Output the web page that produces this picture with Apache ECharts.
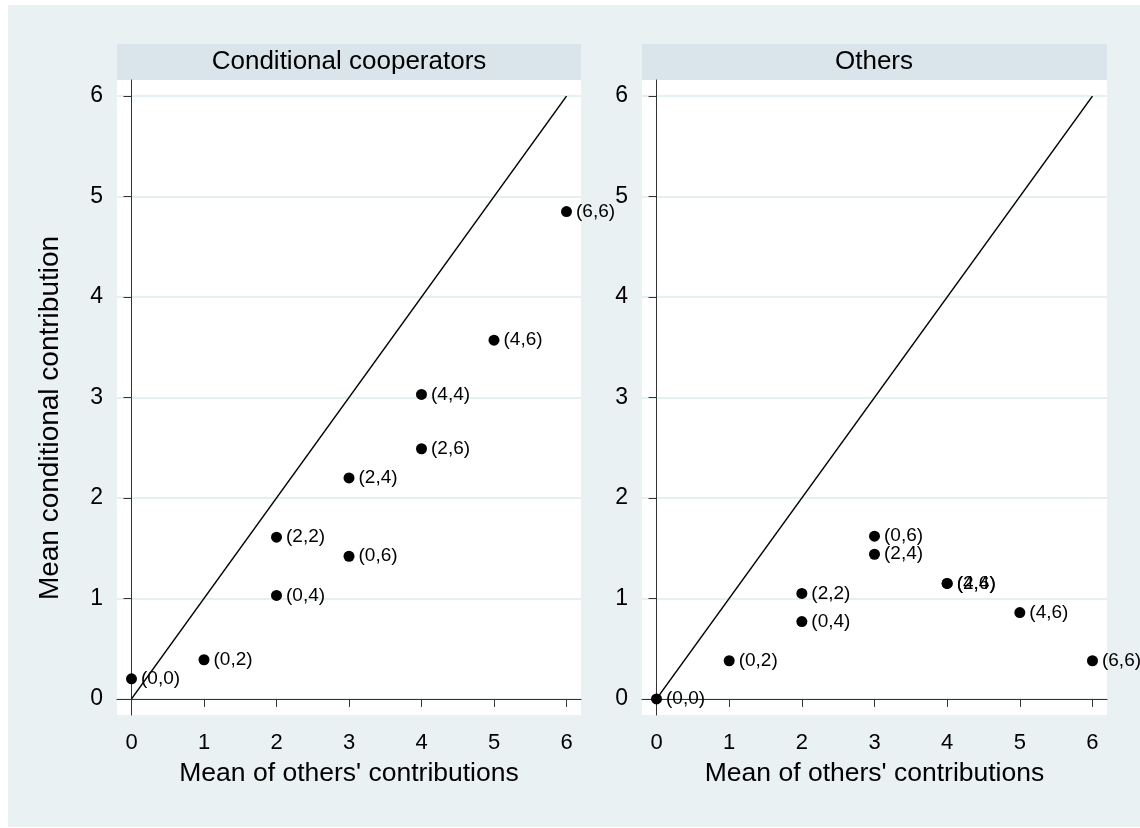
<!DOCTYPE html>
<html>
<head>
<meta charset="utf-8">
<script src="https://cdn.jsdelivr.net/npm/echarts@6/dist/echarts.min.js"></script>
<style>html,body{margin:0;padding:0;background:#fff}#c{width:1140px;height:828px}</style>
</head>
<body>
<div id="c"></div>
<script>
var panelTitles = ['Conditional cooperators', 'Others'];
var xTitle = "Mean of others' contributions";
var yTitle = 'Mean conditional contribution';
var tickValues = [0, 1, 2, 3, 4, 5, 6];
var diagonal = [[0, 0], [6, 6]];

var ccLabels = ['(0,0)', '(0,2)', '(2,2)', '(0,4)', '(2,4)', '(0,6)', '(4,4)', '(2,6)', '(4,6)', '(6,6)'];
var ccX = [0, 1, 2, 2, 3, 3, 4, 4, 5, 6];
var ccY = [0.20, 0.39, 1.61, 1.03, 2.20, 1.42, 3.03, 2.49, 3.57, 4.85];

var otLabels = ['(0,0)', '(0,2)', '(2,2)', '(0,4)', '(0,6)', '(2,4)', '(4,4)', '(2,6)', '(4,6)', '(6,6)'];
var otX = [0, 1, 2, 2, 3, 3, 4, 4, 5, 6];
var otY = [0.00, 0.38, 1.05, 0.77, 1.62, 1.44, 1.15, 1.15, 0.86, 0.38];

var FONT = 'Liberation Sans, Arial, sans-serif';

function pts(xs, ys, labs) {
  return xs.map(function (x, i) { return { value: [x, ys[i]], name: labs[i] }; });
}

var grids = [
  { left: 117, top: 80, width: 464, height: 635 },
  { left: 642, top: 80, width: 465, height: 635 }
];

function xAxisDef(i) {
  return {
    type: 'value', gridIndex: i, min: -0.2, max: 6.2,
    name: xTitle, nameLocation: 'middle', nameGap: 45,
    nameTextStyle: { fontFamily: FONT, fontSize: 26.5, color: '#000' },
    axisLine: { show: true, lineStyle: { color: '#333', width: 1 } },
    axisTick: { show: true, length: 8, customValues: tickValues, lineStyle: { color: '#333' } },
    axisLabel: { customValues: tickValues, fontFamily: FONT, fontSize: 22, color: '#000', margin: 17 },
    splitLine: { show: false }
  };
}
function yAxisDef(i) {
  return {
    type: 'value', gridIndex: i, min: -0.16, max: 6.16,
    axisLine: { show: true, lineStyle: { color: '#333', width: 1 } },
    axisTick: { show: true, length: 8, customValues: tickValues, lineStyle: { color: '#333' } },
    axisLabel: { customValues: tickValues, fontFamily: FONT, fontSize: 23, color: '#000', margin: 14 },
    splitLine: { show: true, lineStyle: { color: '#e6eff2', width: 2 } }
  };
}

function scatter(i, data) {
  return {
    type: 'scatter', xAxisIndex: i, yAxisIndex: i, data: data,
    symbol: 'circle', symbolSize: 11, itemStyle: { color: '#000', opacity: 1 },
    label: { show: true, position: 'right', distance: 4, formatter: '{b}',
      fontFamily: FONT, fontSize: 19, color: '#000' },
    z: 3
  };
}
function diag(i) {
  return {
    type: 'line', xAxisIndex: i, yAxisIndex: i, data: diagonal,
    symbol: 'none', lineStyle: { color: '#000', width: 1.5 }, z: 2, silent: true
  };
}

var chart = echarts.init(document.getElementById('c'), null, { renderer: 'canvas' });
chart.setOption({
  backgroundColor: '#ffffff',
  animation: false,
  graphic: [
    { type: 'rect', shape: { x: 8, y: 5, width: 1132, height: 822 }, style: { fill: '#eaf1f3' }, z: -10 },
    { type: 'rect', shape: { x: 117, y: 80, width: 464, height: 635 }, style: { fill: '#ffffff' }, z: -9 },
    { type: 'rect', shape: { x: 642, y: 80, width: 465, height: 635 }, style: { fill: '#ffffff' }, z: -9 },
    { type: 'rect', shape: { x: 117, y: 44, width: 464, height: 36 }, style: { fill: '#d9e5ea' }, z: -8 },
    { type: 'rect', shape: { x: 642, y: 44, width: 465, height: 36 }, style: { fill: '#d9e5ea' }, z: -8 },
    { type: 'text', x: 349, y: 62, style: { text: panelTitles[0], font: '26px ' + FONT, fill: '#000', textAlign: 'center', textVerticalAlign: 'middle' }, z: 5 },
    { type: 'text', x: 874, y: 62, style: { text: panelTitles[1], font: '26px ' + FONT, fill: '#000', textAlign: 'center', textVerticalAlign: 'middle' }, z: 5 },
    { type: 'text', x: 50, y: 418, rotation: Math.PI / 2, style: { text: yTitle, font: '28px ' + FONT, fill: '#000', textAlign: 'center', textVerticalAlign: 'middle' }, z: 5 }
  ],
  grid: grids,
  xAxis: [xAxisDef(0), xAxisDef(1)],
  yAxis: [yAxisDef(0), yAxisDef(1)],
  series: [
    diag(0), scatter(0, pts(ccX, ccY, ccLabels)),
    diag(1), scatter(1, pts(otX, otY, otLabels))
  ]
});
</script>
</body>
</html>
